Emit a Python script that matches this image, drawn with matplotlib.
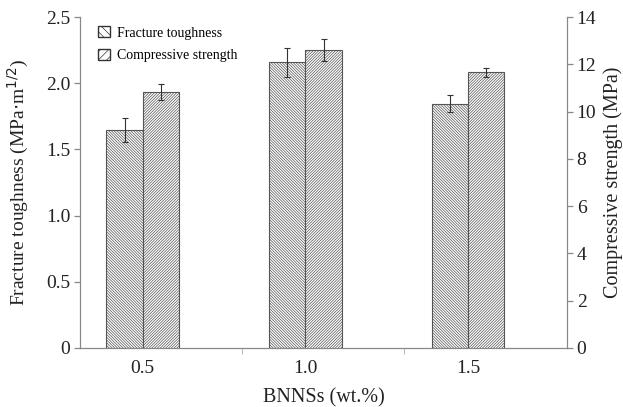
import numpy as np
import matplotlib
matplotlib.use('Agg')
import matplotlib.pyplot as plt
from matplotlib.patches import Patch

plt.rcParams['font.family'] = 'Liberation Serif'
plt.rcParams['hatch.linewidth'] = 0.5

# data
bnns = [0.5, 1.0, 1.5]
tick_labels = ['0.5', '1.0', '1.5']
toughness = [1.645, 2.16, 1.845]
toughness_err = [0.09, 0.11, 0.065]
strength = [10.82, 12.6, 11.67]
strength_err = [0.34, 0.47, 0.19]

fig = plt.figure(figsize=(6.23, 4.07), dpi=100)
ax = fig.add_axes([0.1284, 0.145, 0.7816, 0.813])
ax2 = ax.twinx()

x = np.array(bnns)
w = 0.112
grey = '#555555'

ax.bar(x - w / 2, toughness, w, color='white', edgecolor=grey,
       hatch='\\' * 12, linewidth=0.8, zorder=2)
ax.errorbar(x - w / 2, toughness, yerr=toughness_err, fmt='none',
            ecolor='#333333', elinewidth=0.8, capsize=2.2, capthick=0.8, zorder=3)
ax2.bar(x + w / 2, strength, w, color='white', edgecolor=grey,
        hatch='/' * 12, linewidth=0.8, zorder=2)
ax2.errorbar(x + w / 2, strength, yerr=strength_err, fmt='none',
             ecolor='#333333', elinewidth=0.8, capsize=2.2, capthick=0.8, zorder=3)

ax.set_xlim(0.307, 1.804)
ax.set_ylim(0, 2.5)
ax2.set_ylim(0, 14)
ax.set_yticks([0, 0.5, 1.0, 1.5, 2.0, 2.5])
ax.set_yticklabels(['0', '0.5', '1.0', '1.5', '2.0', '2.5'])
ax2.set_yticks(range(0, 15, 2))

ax.set_xticks(x)
ax.set_xticklabels(tick_labels)
ax.set_xticks([0.804, 1.304], minor=True)
ax.tick_params(axis='x', which='major', length=0, pad=9)
ax.tick_params(axis='x', which='minor', length=4, color='#aaaaaa')

for a in (ax, ax2):
    a.spines['top'].set_visible(False)
    for s in a.spines.values():
        s.set_color('#888888')
        s.set_linewidth(0.9)
    a.tick_params(axis='y', labelsize=14, colors='#888888', labelcolor='#222222',
                  length=4, width=0.9, pad=3)
ax.tick_params(axis='x', labelsize=14, labelcolor='#222222')
ax.spines['right'].set_visible(False)
ax2.spines['left'].set_visible(False)
ax2.spines['bottom'].set_visible(False)

ax.set_xlabel('BNNSs (wt.%)', fontsize=14.5, color='#222222', labelpad=8)
ax.set_ylabel('Fracture toughness (MPa$\\cdot$m$^{1/2}$)', fontsize=14, color='#222222')
ax2.set_ylabel('Compressive strength (MPa)', fontsize=14.5, color='#222222')
ax.yaxis.set_label_coords(-0.1, 0.5)
ax2.yaxis.set_label_coords(1.075, 0.5)

handles = [Patch(facecolor='white', edgecolor='#333333', hatch='\\' * 4, label='Fracture toughness'),
           Patch(facecolor='white', edgecolor='#333333', hatch='/' * 4, label='Compressive strength')]
ax.legend(handles=handles, loc='upper left', bbox_to_anchor=(0.012, 1.01), frameon=False,
          fontsize=10, handlelength=0.85, handleheight=0.85, handletextpad=0.5, labelspacing=0.65)

fig.savefig('out.png', dpi=100)
